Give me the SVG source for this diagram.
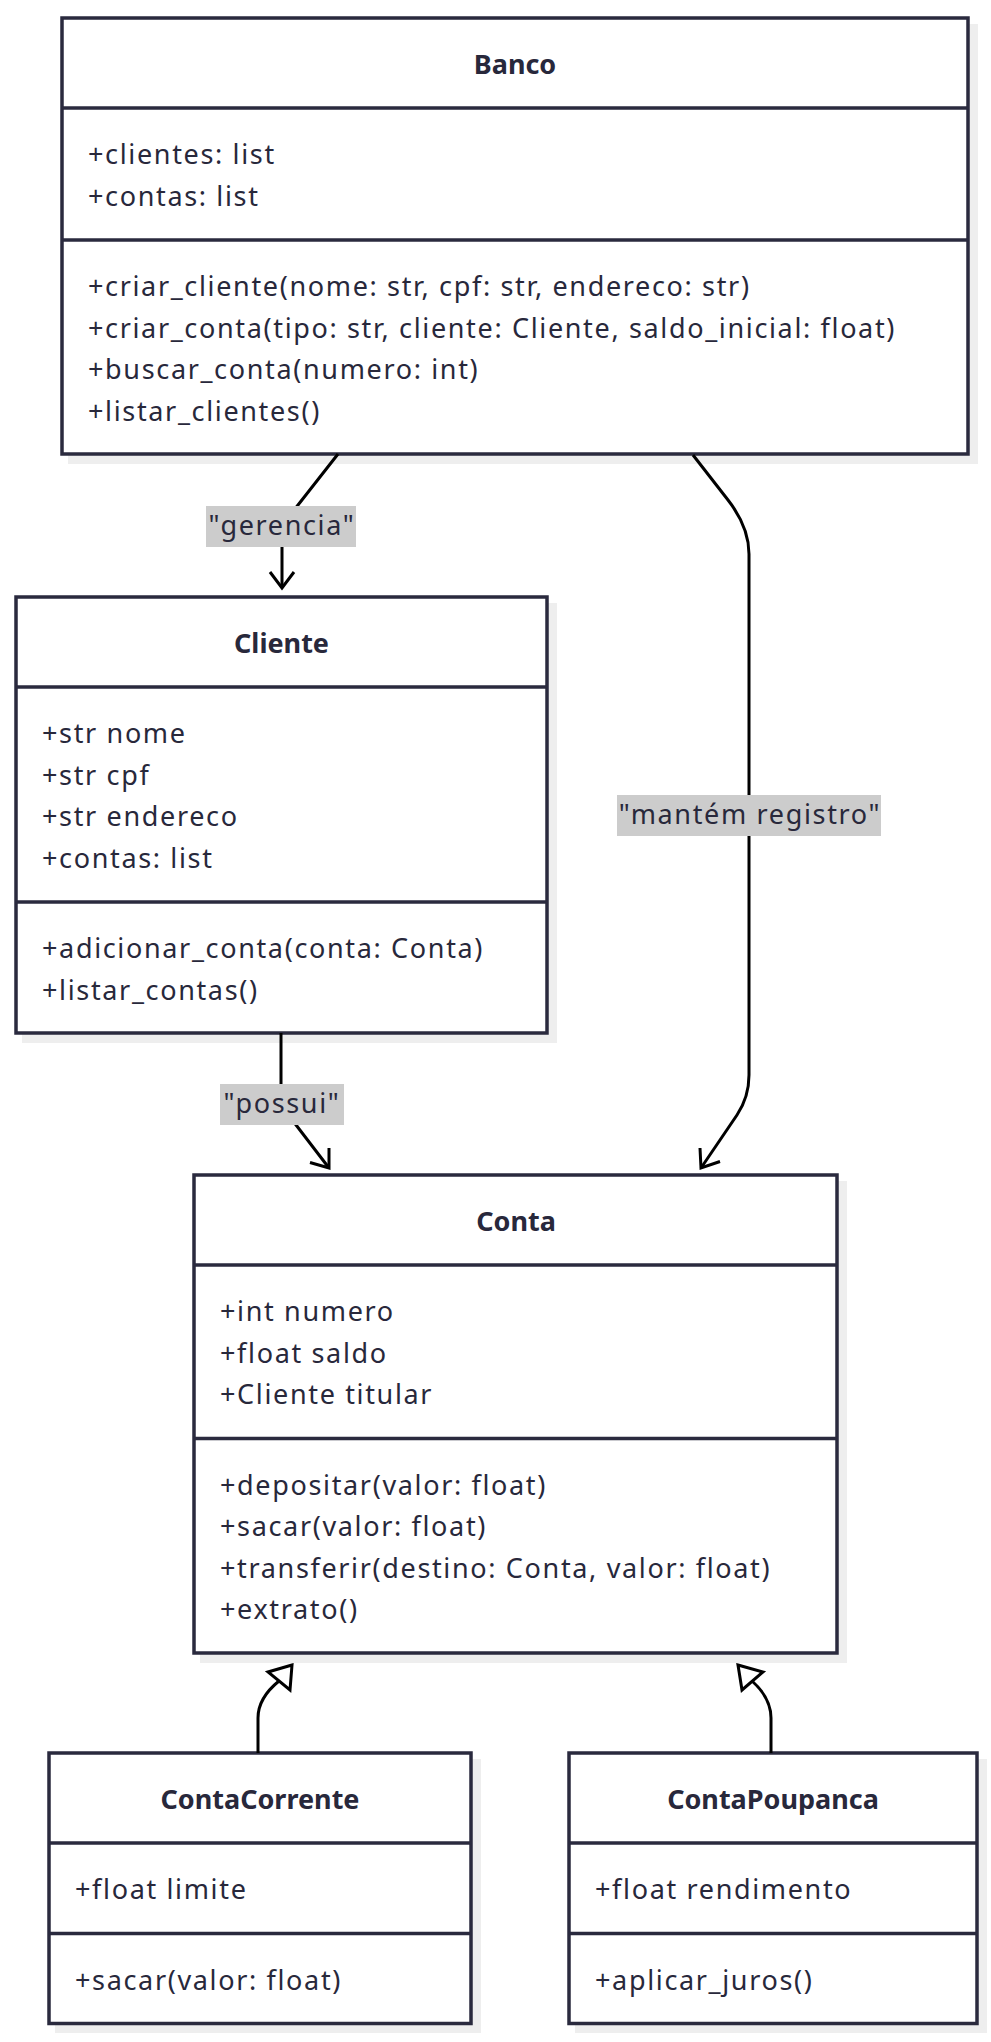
<svg xmlns="http://www.w3.org/2000/svg" width="991" height="2042" viewBox="0 0 991 2042">
<style>
.bg{fill:#ffffff}
.sh{fill:#eeeeee}
.box{fill:#ffffff;stroke:#2a2a3e;stroke-width:3.5}
.div{stroke:#2a2a3e;stroke-width:3.5}
.t{font-family:"Noto Sans","Open Sans",sans-serif;font-size:27px;fill:#28283b;letter-spacing:1.65px}
.ttl{font-family:"Noto Sans","Open Sans",sans-serif;font-size:27px;font-weight:bold;fill:#28283b;text-anchor:middle}
.edge{fill:none;stroke:#000000;stroke-width:3}
.head{fill:none;stroke:#000000;stroke-width:3;stroke-linejoin:miter}
.tri{fill:#ffffff;stroke:#000000;stroke-width:3;stroke-linejoin:miter}
.lbg{fill:#cccccc}
.lt{font-family:"Noto Sans","Open Sans",sans-serif;font-size:27px;fill:#28283b;letter-spacing:1.65px;text-anchor:middle}
</style>
<rect class="bg" x="0" y="0" width="991" height="2042"/>

<g id="node-Banco">
<rect class="sh" x="68" y="24" width="910" height="440"/>
<rect class="box" x="62" y="18" width="906" height="436"/>
<line class="div" x1="62" y1="108" x2="968" y2="108"/>
<line class="div" x1="62" y1="240" x2="968" y2="240"/>
<text class="ttl" x="515" y="74">Banco</text>
<text class="t" x="88" y="164">+clientes: list</text>
<text class="t" x="88" y="205.5">+contas: list</text>
<text class="t" x="88" y="296">+criar_cliente(nome: str, cpf: str, endereco: str)</text>
<text class="t" x="88" y="337.5">+criar_conta(tipo: str, cliente: Cliente, saldo_inicial: float)</text>
<text class="t" x="88" y="379">+buscar_conta(numero: int)</text>
<text class="t" x="88" y="420.5">+listar_clientes()</text>
</g>

<g id="node-Cliente">
<rect class="sh" x="22" y="603" width="535" height="440"/>
<rect class="box" x="16" y="597" width="531" height="436"/>
<line class="div" x1="16" y1="687" x2="547" y2="687"/>
<line class="div" x1="16" y1="902" x2="547" y2="902"/>
<text class="ttl" x="281.5" y="653">Cliente</text>
<text class="t" x="42" y="743">+str nome</text>
<text class="t" x="42" y="784.5">+str cpf</text>
<text class="t" x="42" y="826">+str endereco</text>
<text class="t" x="42" y="867.5">+contas: list</text>
<text class="t" x="42" y="958">+adicionar_conta(conta: Conta)</text>
<text class="t" x="42" y="999.5">+listar_contas()</text>
</g>

<g id="node-Conta">
<rect class="sh" x="200" y="1181" width="647" height="482"/>
<rect class="box" x="194" y="1175" width="643" height="478"/>
<line class="div" x1="194" y1="1265" x2="837" y2="1265"/>
<line class="div" x1="194" y1="1438.5" x2="837" y2="1438.5"/>
<text class="ttl" x="516" y="1231">Conta</text>
<text class="t" x="220" y="1321">+int numero</text>
<text class="t" x="220" y="1362.5">+float saldo</text>
<text class="t" x="220" y="1404">+Cliente titular</text>
<text class="t" x="220" y="1494.5">+depositar(valor: float)</text>
<text class="t" x="220" y="1536">+sacar(valor: float)</text>
<text class="t" x="220" y="1577.5">+transferir(destino: Conta, valor: float)</text>
<text class="t" x="220" y="1619">+extrato()</text>
</g>

<g id="node-ContaCorrente">
<rect class="sh" x="55" y="1759" width="426" height="274"/>
<rect class="box" x="49" y="1753" width="422" height="270.5"/>
<line class="div" x1="49" y1="1843" x2="471" y2="1843"/>
<line class="div" x1="49" y1="1933.5" x2="471" y2="1933.5"/>
<text class="ttl" x="260" y="1809">ContaCorrente</text>
<text class="t" x="75" y="1899">+float limite</text>
<text class="t" x="75" y="1989.5">+sacar(valor: float)</text>
</g>

<g id="node-ContaPoupanca">
<rect class="sh" x="575" y="1759" width="412" height="274"/>
<rect class="box" x="569" y="1753" width="408" height="270.5"/>
<line class="div" x1="569" y1="1843" x2="977" y2="1843"/>
<line class="div" x1="569" y1="1933.5" x2="977" y2="1933.5"/>
<text class="ttl" x="773" y="1809">ContaPoupanca</text>
<text class="t" x="595" y="1899">+float rendimento</text>
<text class="t" x="595" y="1989.5">+aplicar_juros()</text>
</g>

<g id="connectors">
<path class="edge" d="M338,454 L298,505 Q282,525 282,546 L282,587"/>
<polyline class="head" points="270,572 282,588 294,572"/>
<rect class="lbg" x="206" y="506" width="150" height="41"/>
<text class="lt" x="282" y="535">"gerencia"</text>

<path class="edge" d="M693,455 L728,500 Q749,527 749,554 L749,1075 Q749,1097 737,1115 L701,1168"/>
<polyline class="head" points="700,1148 701,1168 720,1161.5"/>
<rect class="lbg" x="617" y="795" width="264" height="41"/>
<text class="lt" x="750" y="824">"mantém registro"</text>

<path class="edge" d="M281,1033 L281,1085 Q281,1105.5 293,1121 L329,1168"/>
<polyline class="head" points="329,1148 329,1168 310,1162.5"/>
<rect class="lbg" x="220" y="1084" width="124" height="41"/>
<text class="lt" x="282" y="1113">"possui"</text>

<path class="edge" d="M258,1753 L258,1718 Q258,1698 279,1681"/>
<polygon class="tri" points="292,1665 268,1672 290,1690"/>

<path class="edge" d="M771,1753 L771,1718 Q771,1698 752,1681"/>
<polygon class="tri" points="738,1665 763,1672 742,1690"/>
</g>
</svg>
